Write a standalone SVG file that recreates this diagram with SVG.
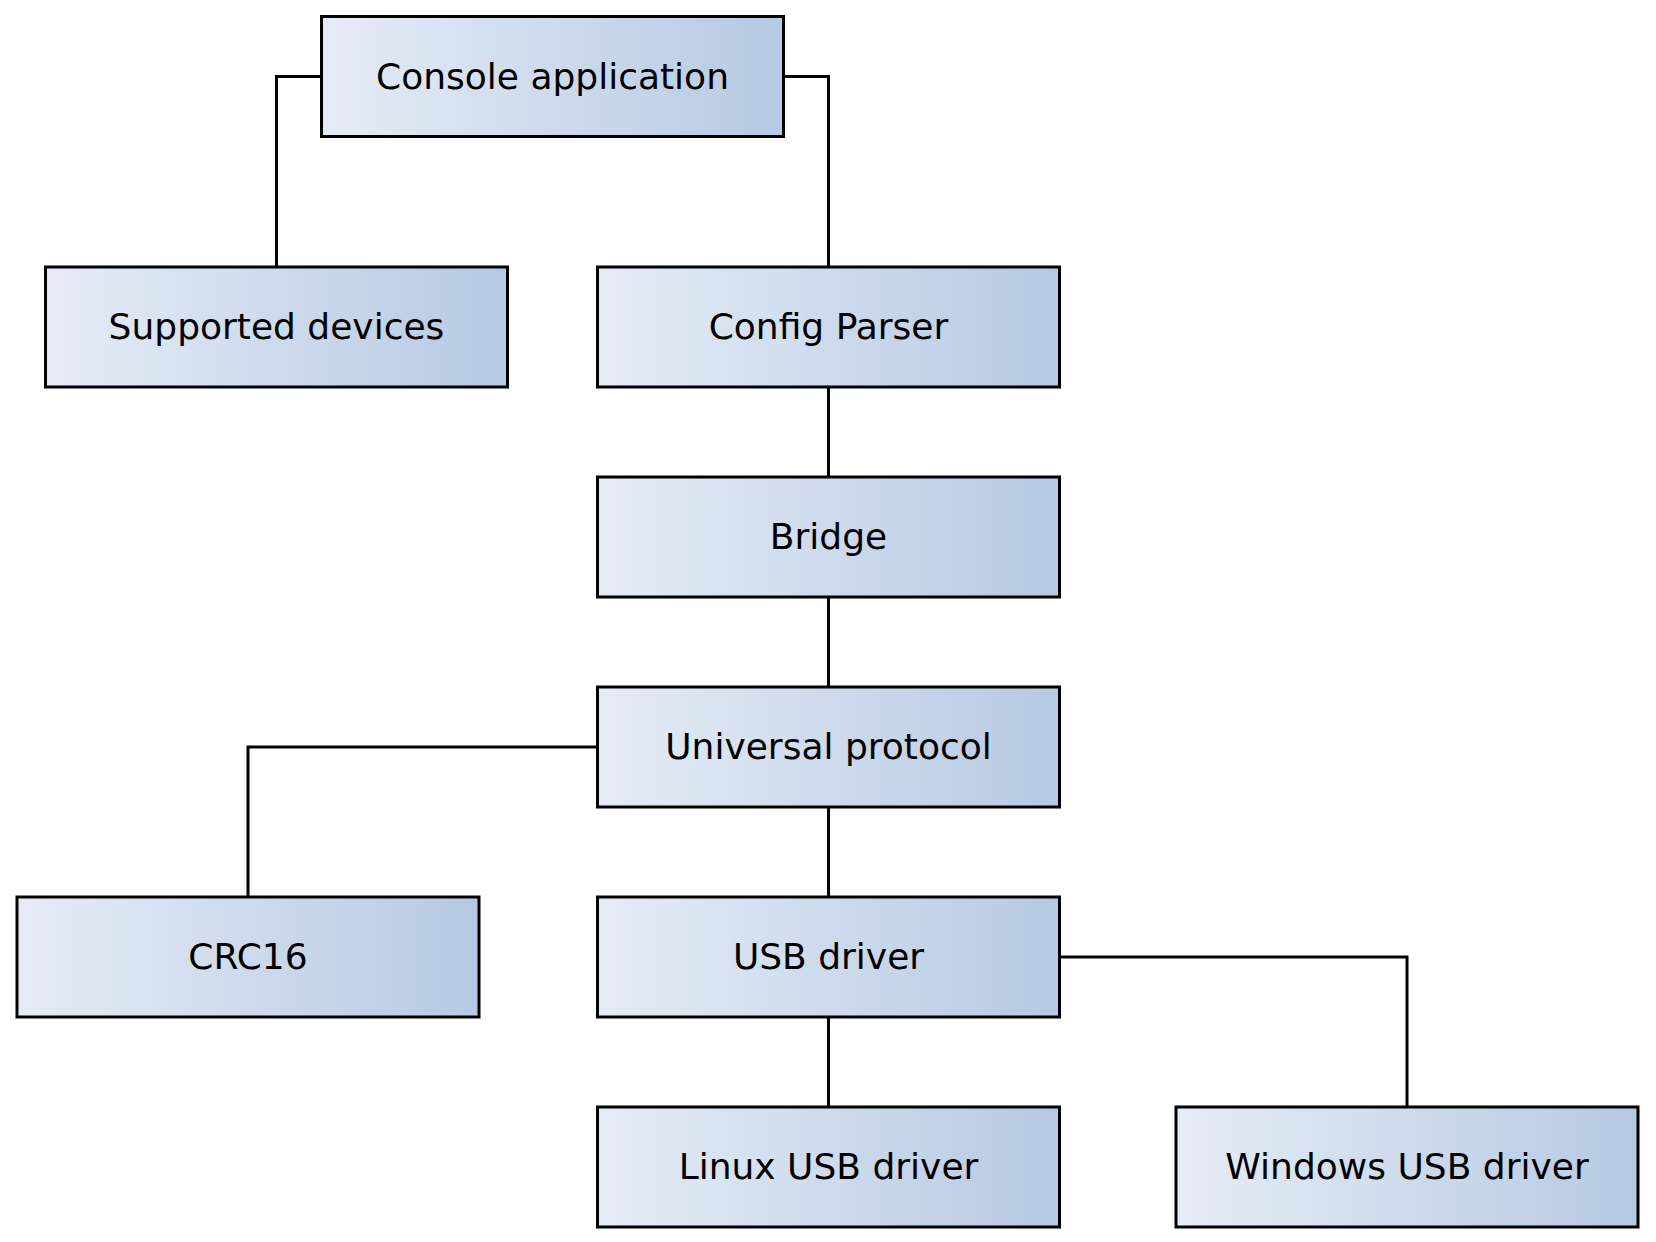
<svg xmlns="http://www.w3.org/2000/svg" width="1656" height="1242" viewBox="0 0 1656 1242">
<style>
.box{fill:url(#g);stroke:#000;stroke-width:3}
.lbl{font-family:"DejaVu Sans",sans-serif;font-size:36px;fill:#000;text-anchor:middle}
.conn{fill:none;stroke:#000;stroke-width:3}
</style>
<defs>
<linearGradient id="g" x1="0" y1="0" x2="1" y2="0">
<stop offset="0" stop-color="#e6ecf6"/>
<stop offset="1" stop-color="#b6c9e3"/>
</linearGradient>
</defs>
<rect width="1656" height="1242" fill="#fff"/>
<g id="connectors">
<path class="conn" d="M321.5,76.5H276.5V267"/>
<path class="conn" d="M783,76.5H828.5V267"/>
<path class="conn" d="M828.5,387V477"/>
<path class="conn" d="M828.5,597V687"/>
<path class="conn" d="M597.5,747H248V897"/>
<path class="conn" d="M828.5,807V897"/>
<path class="conn" d="M828.5,1017V1107"/>
<path class="conn" d="M1059,957H1407V1107"/>
</g>
<g id="console"><rect class="box" x="321.5" y="16.5" width="462" height="120"/><text class="lbl" x="552.5" y="88.5">Console application</text></g>
<g id="supported"><rect class="box" x="45.5" y="267" width="462" height="120"/><text class="lbl" x="276.5" y="339">Supported devices</text></g>
<g id="config"><rect class="box" x="597.5" y="267" width="462" height="120"/><text class="lbl" x="828.5" y="339">Config Parser</text></g>
<g id="bridge"><rect class="box" x="597.5" y="477" width="462" height="120"/><text class="lbl" x="828.5" y="549">Bridge</text></g>
<g id="universal"><rect class="box" x="597.5" y="687" width="462" height="120"/><text class="lbl" x="828.5" y="759">Universal protocol</text></g>
<g id="crc16"><rect class="box" x="17" y="897" width="462" height="120"/><text class="lbl" x="248" y="969">CRC16</text></g>
<g id="usb"><rect class="box" x="597.5" y="897" width="462" height="120"/><text class="lbl" x="828.5" y="969">USB driver</text></g>
<g id="linux"><rect class="box" x="597.5" y="1107" width="462" height="120"/><text class="lbl" x="828.5" y="1179">Linux USB driver</text></g>
<g id="windows"><rect class="box" x="1176" y="1107" width="462" height="120"/><text class="lbl" x="1407" y="1179">Windows USB driver</text></g>
</svg>
